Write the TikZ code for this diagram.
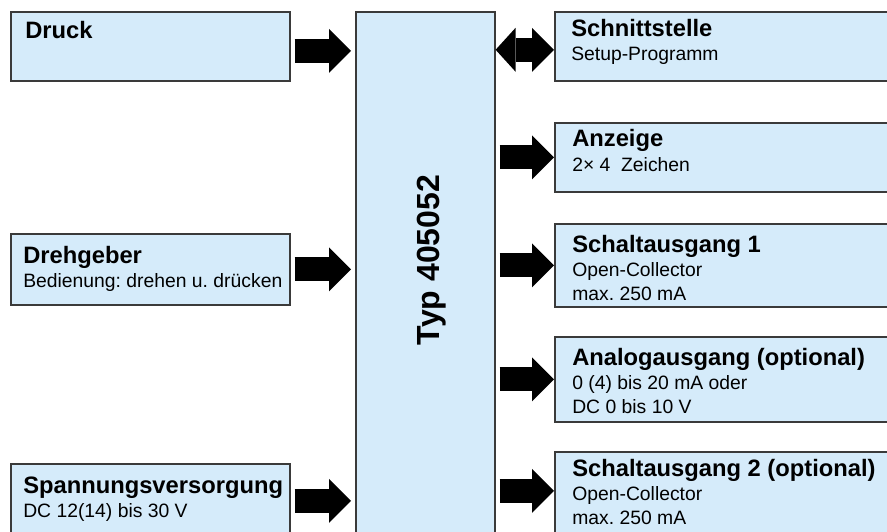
\documentclass[tikz,border=0pt]{standalone}
\usepackage{fontspec}
\setmainfont{Liberation Sans}
\usetikzlibrary{arrows.meta, positioning}
\frenchspacing

\definecolor{boxblue}{RGB}{213,235,250}
\definecolor{boxline}{RGB}{58,58,58}
\newcommand{\boxtitle}[1]{{\fontsize{17.8}{18}\selectfont\bfseries #1}}

\tikzstyle{box} = [rectangle, draw=boxline, fill=boxblue, line width=1.2pt, anchor=north west, inner sep=0pt]
\tikzstyle{boxtext} = [anchor=base west, align=left, inner sep=0pt, font=\fontsize{14.5}{18}\selectfont]
\tikzstyle{arrow} = [line width=18pt, -{Triangle[length=16.5pt, width=33pt, line width=0pt]}]
\tikzstyle{dblarrow} = [line width=18pt, {Triangle[length=15pt, width=33pt, line width=0pt]}-{Triangle[length=16.5pt, width=33pt, line width=0pt]}]

\begin{document}
\begin{tikzpicture}[x=0.75pt, y=-0.75pt]
  \path[use as bounding box] (0,0) rectangle (887,531);
  \clip (0,0) rectangle (887,531);

  % Geraet
  \node (typ) [box, minimum width=104.25pt, minimum height=400.5pt] at (355,11) {};
  \node (typ-text) [rotate=90, font=\fontsize{24}{28}\selectfont\bfseries] at (432,260) {Typ 405052};

  % Eingaenge (base = letzte Zeile)
  \node (druck) [box, minimum width=209.25pt, minimum height=51.75pt] at (10,11) {};
  \node (dreh) [box, minimum width=209.25pt, minimum height=53.25pt] at (10,233) {};
  \node (spannung) [box, minimum width=209.25pt, minimum height=55.5pt] at (10,463) {};

  \node (druck-text) [below right=21pt and 11.25pt of druck.north west, boxtext] {\boxtitle{Druck}};
  \node (dreh-text) [below right=40.5pt and 9.75pt of dreh.north west, boxtext] {\boxtitle{Drehgeber}\\ Bedienung: drehen u. drücken};
  \node (spannung-text) [below right=40.5pt and 9.75pt of spannung.north west, boxtext] {\boxtitle{Spannungsversorgung}\\ DC 12(14) bis 30 V};

  % Ausgaenge
  \node (schnitt) [box, minimum width=259.5pt, minimum height=51.75pt] at (554,11) {};
  \node (anzeige) [box, minimum width=259.5pt, minimum height=51.75pt] at (554,122) {};
  \node (schalt1) [box, minimum width=259.5pt, minimum height=62.25pt] at (554,223) {};
  \node (analog) [box, minimum width=259.5pt, minimum height=63.75pt] at (554,336) {};
  \node (schalt2) [box, minimum width=259.5pt, minimum height=70.5pt] at (554,451) {};

  \node (schnitt-text) [below right=37.5pt and 12.75pt of schnitt.north west, boxtext] {\boxtitle{Schnittstelle}\\ Setup-Programm};
  \node (anzeige-text) [below right=36.75pt and 13.5pt of anzeige.north west, boxtext] {\boxtitle{Anzeige}\\ 2× 4\ \ Zeichen};
  \node (schalt1-text) [below right=57.75pt and 13.5pt of schalt1.north west, boxtext] {\boxtitle{Schaltausgang 1}\\ Open-Collector\\ max. 250 mA};
  \node (analog-text) [below right=57.75pt and 13.5pt of analog.north west, boxtext] {\boxtitle{Analogausgang (optional)}\\ 0 (4) bis 20 mA oder\\ DC 0 bis 10 V};
  \node (schalt2-text) [below right=54.75pt and 13.5pt of schalt2.north west, boxtext] {\boxtitle{Schaltausgang 2 (optional)}\\ Open-Collector\\ max. 250 mA};

  % Pfeile
  \draw [arrow, shorten <=3pt, shorten >=3pt] ([yshift=-3.4pt]druck.east) -- ([yshift=-3.4pt]druck.east -| typ.west);
  \draw [arrow, shorten <=3pt, shorten >=3pt] (dreh.east) -- (dreh.east -| typ.west);
  \draw [arrow, shorten <=3pt, shorten >=3pt] (spannung.east) -- (spannung.east -| typ.west);

  \draw [dblarrow] ([yshift=-2.6pt]typ.east |- schnitt.west) -- ([yshift=-2.6pt]schnitt.west);
  \draw [arrow, shorten <=3pt] (typ.east |- anzeige.west) -- (anzeige.west);
  \draw [arrow, shorten <=3pt] (typ.east |- schalt1.west) -- (schalt1.west);
  \draw [arrow, shorten <=3pt] (typ.east |- analog.west) -- (analog.west);
  \draw [arrow, shorten <=3pt] ([yshift=6pt]typ.east |- schalt2.west) -- ([yshift=6pt]schalt2.west);

\end{tikzpicture}
\end{document}
